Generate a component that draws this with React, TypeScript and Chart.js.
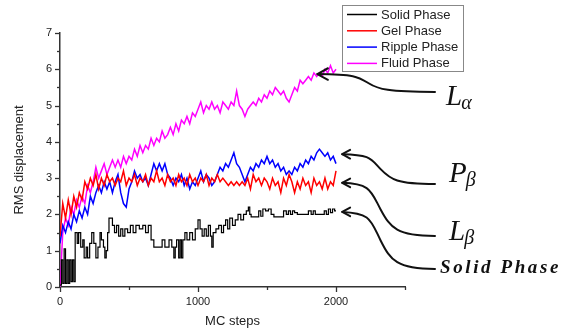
import React, { useEffect, useRef } from 'react';
import { Chart, registerables } from 'chart.js';

Chart.register(...registerables);

// ---------- data ----------
const mcSteps = [
  0, 20, 40, 60, 80, 100, 120, 140, 160, 180, 200, 220, 240, 260, 280, 300, 320, 340, 360, 380,
  400, 420, 440, 460, 480, 500, 520, 540, 560, 580, 600, 620, 640, 660, 680, 700, 720, 740, 760, 780,
  800, 820, 840, 860, 880, 900, 920, 940, 960, 980, 1000, 1020, 1040, 1060, 1080, 1100, 1120, 1140, 1160, 1180,
  1200, 1220, 1240, 1260, 1280, 1300, 1320, 1340, 1360, 1380, 1400, 1420, 1440, 1460, 1480, 1500, 1520, 1540, 1560, 1580,
  1600, 1620, 1640, 1660, 1680, 1700, 1720, 1740, 1760, 1780, 1800, 1820, 1840, 1860, 1880, 1900, 1920, 1940, 1960, 1980,
  2000,
];

const fluidValues = [
  0, 1.5, 1.9, 1.7, 2.2, 2.0, 2.4, 2.2, 2.5, 2.3, 2.8, 2.6, 2.9, 3.3, 3.0, 3.2, 3.4, 3.1, 3.3, 3.5,
  3.3, 3.5, 3.3, 3.6, 3.4, 3.6, 3.5, 3.8, 3.6, 3.9, 3.7, 3.9, 3.8, 4.1, 3.9, 4.1, 4.0, 4.3, 4.1, 4.2,
  4.4, 4.2, 4.5, 4.3, 4.6, 4.5, 4.7, 4.5, 4.8, 4.7, 4.9, 5.1, 4.8, 5.0, 4.9, 5.1, 4.9, 5.0, 4.8, 5.1,
  5.0, 4.9, 5.1, 5.0, 5.4, 5.0, 4.9, 4.7, 4.9, 5.0, 5.1, 5.0, 5.2, 5.1, 5.3, 5.2, 5.4, 5.3, 5.5, 5.4,
  5.3, 5.4, 5.2, 5.1, 5.3, 5.5, 5.4, 5.7, 5.6, 5.7, 5.8, 5.7, 5.9, 5.8, 5.9, 5.8, 6.0, 5.9, 6.1, 5.9,
  6.0,
];

const gelValues = [
  1.4, 2.3, 1.9, 2.4, 2.0, 2.5, 2.2, 2.6, 2.4, 2.9, 2.7, 3.0, 2.8, 3.1, 2.7, 3.0, 2.8, 3.1, 2.9, 3.0,
  2.8, 3.0, 2.9, 3.2, 2.8, 3.0, 2.9, 3.1, 2.8, 3.0, 2.9, 3.1, 2.8, 3.0, 2.9, 3.2, 2.9, 3.0, 2.8, 3.1,
  2.9, 3.0, 2.8, 3.1, 2.9, 3.0, 2.8, 3.1, 2.9, 3.0, 2.8, 3.0, 2.9, 3.1, 2.8, 3.0, 2.9, 3.1, 2.9, 3.0,
  2.9, 2.8, 2.9, 2.8, 2.9, 2.8, 2.9, 2.8, 3.0, 2.7, 3.1, 2.9, 3.0, 2.8, 3.0, 2.9, 2.7, 3.0, 2.8, 2.9,
  2.6, 3.0, 2.8, 3.1, 2.9, 2.6, 2.9, 2.7, 3.0, 2.8, 2.9, 2.6, 3.0, 2.8, 2.9, 2.7, 3.0, 2.7, 2.9, 2.8,
  3.2,
];

const rippleValues = [
  1.2, 1.7, 1.5, 1.8, 1.6, 2.0, 1.8, 2.1, 1.9, 2.2, 2.0, 2.5, 2.3, 2.6, 2.8, 2.6, 2.9, 2.7, 2.9, 2.6,
  2.9, 3.1, 2.6, 2.3, 2.2, 2.7, 2.9, 3.2, 3.0, 3.1, 2.9, 3.0, 2.8, 3.1, 3.4, 3.2, 3.4, 3.2, 3.4, 3.1,
  3.0, 2.8, 3.0, 2.9, 3.1, 2.8, 3.0, 2.7, 2.9, 2.8, 3.0, 3.2, 2.9, 3.1, 3.0, 2.8, 2.9, 3.1, 3.3, 3.2,
  3.4, 3.3, 3.5, 3.7, 3.4, 3.3, 3.1, 2.9, 3.1, 3.3, 3.2, 3.4, 3.3, 3.5, 3.4, 3.6, 3.4, 3.5, 3.3, 3.4,
  3.2, 3.3, 3.1, 3.2, 3.1, 3.3, 3.2, 3.4, 3.3, 3.5, 3.4, 3.6, 3.5, 3.7, 3.8, 3.7, 3.6, 3.7, 3.5, 3.6,
  3.4,
];

// solid phase: early fast-fluctuating part (0-100 MC steps) followed by the slower staircase
const solidSteps = [
  0, 10, 20, 30, 40, 50, 60, 70, 80, 90, 100,
  110, 125, 135, 150, 165, 175, 190, 200, 215, 230, 245, 260, 275, 290, 300,
  315, 325, 335, 345, 355, 380, 395, 410, 425, 440, 455, 470, 490, 510, 530, 550, 575, 600, 620, 640,
  660, 680, 720, 740, 760, 790, 810, 825, 835, 845, 860, 870, 880, 890, 905, 920, 940, 960, 980, 1000,
  1015, 1030, 1045, 1060, 1075, 1090, 1100, 1110, 1130, 1150, 1170, 1185, 1200, 1215, 1230, 1250, 1270, 1290, 1310, 1330,
  1350, 1365, 1375, 1385, 1420, 1440, 1455, 1470, 1490, 1510, 1530, 1550, 1600, 1620, 1640, 1655, 1670, 1685, 1700, 1720,
  1780, 1800, 1820, 1835, 1850, 1900, 1915, 1930, 1945, 1960, 1975, 1990, 2000,
];

const solidValues = [
  0.05, 0.75, 0.1, 1.05, 0.1, 0.75, 0.1, 0.75, 0.15, 0.75, 0.15,
  1.5, 1.2, 1.5, 1.1, 1.3, 0.8, 1.1, 0.8, 1.2, 1.5, 1.2, 0.8, 1.1, 1.5, 1.3,
  1.1, 0.8, 1.0, 1.5, 1.9, 1.7, 1.5, 1.7, 1.4, 1.6, 1.4, 1.6, 1.5, 1.7, 1.5, 1.7, 1.6, 1.7, 1.5, 1.7,
  1.3, 1.1, 1.1, 1.3, 1.1, 1.3, 1.1, 0.8, 1.1, 1.3, 0.8, 1.3, 0.8, 1.3, 1.5, 1.3, 1.5, 1.3, 1.6, 1.85,
  1.6, 1.4, 1.6, 1.4, 1.7, 1.4, 1.1, 1.5, 1.6, 1.7, 1.5, 1.7, 1.85, 1.6, 1.9, 1.7, 1.85, 2.0, 1.85, 2.0,
  2.1, 2.2, 2.0, 1.93, 1.93, 2.1, 1.95, 2.15, 2.1, 2.15, 2.0, 1.93, 1.93, 2.1, 2.0, 2.1, 2.0, 2.1, 2.05, 2.0,
  2.0, 2.1, 2.0, 2.1, 2.0, 2.0, 2.1, 2.0, 2.15, 2.05, 2.15, 2.1, 2.1,
];

const seriesNames = ['Solid Phase', 'Gel Phase', 'Ripple Phase', 'Fluid Phase'];
const seriesColors = ['#000000', '#ff0000', '#0000ff', '#ff00ff'];

const xMajorTicks = [0, 1000, 2000];
const xMinorTicks = [500, 1500, 2500];
const yMajorTicks = [0, 1, 2, 3, 4, 5, 6, 7];
const yMinorTicks = [0.5, 1.5, 2.5, 3.5, 4.5, 5.5, 6.5];

// annotation arrows: target (data coords) -> label
const annoLabelMain = ['L', 'P', 'L', 'Solid Phase'];
const annoLabelSub = ['α', 'β', 'β', ''];
const annoTargetStep = [1865, 2045, 2045, 2045];
const annoTargetValue = [5.87, 3.66, 2.87, 2.07];

const SANS = '"Liberation Sans", Arial, Helvetica, sans-serif';
const SERIF = '"Liberation Serif", "DejaVu Serif", serif';

function drawArrow(ctx: CanvasRenderingContext2D, x0: number, y0: number, x1: number, y1: number, head: number) {
  const dy = y1 - y0;
  const mx = (x0 + x1) / 2 - 8;
  const my = (y0 + y1) / 2;
  ctx.beginPath();
  ctx.moveTo(x0, y0);
  ctx.bezierCurveTo(x0 + (mx - x0) * 0.75, y0 + dy * 0.02, mx - 10, my - dy * 0.35, mx, my);
  ctx.bezierCurveTo(mx + 10, my + dy * 0.35, x1 - (x1 - mx) * 0.7, y1, x1, y1);
  ctx.stroke();
  const ang = 0.5;
  ctx.beginPath();
  ctx.moveTo(x0 + head * Math.cos(ang), y0 - head * Math.sin(ang));
  ctx.lineTo(x0, y0);
  ctx.lineTo(x0 + head * Math.cos(ang), y0 + head * Math.sin(ang));
  ctx.stroke();
}

const decorPlugin = {
  id: 'decor',
  afterDraw(chart: any) {
    const ctx: CanvasRenderingContext2D = chart.ctx;
    const xs = chart.scales.x;
    const ys = chart.scales.y;
    const area = chart.chartArea;
    ctx.save();
    // ticks
    ctx.strokeStyle = '#333';
    ctx.lineWidth = 1.3;
    const tick = (vals: number[], len: number, horiz: boolean) => {
      vals.forEach((v) => {
        ctx.beginPath();
        if (horiz) {
          const px = Math.round(xs.getPixelForValue(v)) + 0.5;
          ctx.moveTo(px, area.bottom);
          ctx.lineTo(px, area.bottom + len);
        } else {
          const py = Math.round(ys.getPixelForValue(v)) + 0.5;
          ctx.moveTo(area.left, py);
          ctx.lineTo(area.left - len, py);
        }
        ctx.stroke();
      });
    };
    tick(xMajorTicks, 5, true);
    tick(xMinorTicks, 3, true);
    tick(yMajorTicks, 5, false);
    tick(yMinorTicks, 3, false);

    // legend
    const lx = 342, ly = 5, lw = 121, lh = 66;
    ctx.fillStyle = '#fff';
    ctx.fillRect(lx, ly, lw, lh);
    ctx.strokeStyle = '#888';
    ctx.lineWidth = 1;
    ctx.strokeRect(lx + 0.5, ly + 0.5, lw, lh);
    ctx.font = `13px ${SANS}`;
    ctx.textBaseline = 'middle';
    ctx.textAlign = 'left';
    seriesNames.forEach((name, i) => {
      const y = 14.5 + i * 16.3;
      ctx.strokeStyle = seriesColors[i];
      ctx.lineWidth = 1.5;
      ctx.beginPath();
      ctx.moveTo(347, y);
      ctx.lineTo(377, y);
      ctx.stroke();
      ctx.fillStyle = '#222';
      ctx.fillText(name, 381, y + 0.5);
    });

    // annotations
    ctx.strokeStyle = '#111';
    ctx.lineWidth = 2;
    ctx.lineCap = 'round';
    ctx.lineJoin = 'round';
    const tails = [[435, 92], [435, 184], [435, 236], [435, 269]];
    annoTargetStep.forEach((s, i) => {
      const hx = xs.getPixelForValue(s);
      const hy = ys.getPixelForValue(annoTargetValue[i]);
      drawArrow(ctx, hx, hy, tails[i][0], tails[i][1], i === 0 ? 12 : 9);
    });
    ctx.fillStyle = '#111';
    ctx.textBaseline = 'alphabetic';
    const mainPos = [[446, 105], [449, 182], [449, 240]];
    for (let i = 0; i < 3; i++) {
      ctx.font = `italic 29px ${SERIF}`;
      ctx.fillText(annoLabelMain[i], mainPos[i][0], mainPos[i][1]);
      const w = ctx.measureText(annoLabelMain[i]).width;
      ctx.font = `italic 20px ${SERIF}`;
      ctx.fillText(annoLabelSub[i], mainPos[i][0] + w - 1, mainPos[i][1] + 4);
    }
    ctx.font = `italic bold 19px ${SERIF}`;
    (ctx as any).letterSpacing = '2.6px';
    ctx.fillText(annoLabelMain[3], 440, 273);
    (ctx as any).letterSpacing = '0px';
    ctx.restore();
  },
};

export default function App() {
  const ref = useRef<HTMLCanvasElement | null>(null);
  useEffect(() => {
    if (!ref.current) return;
    const line = (label: string, color: string, data: any, stepped = false, width = 1.5) => ({
      label,
      data,
      borderColor: color,
      backgroundColor: color,
      borderWidth: width,
      pointRadius: 0,
      tension: 0,
      stepped,
      fill: false,
    });
    const xy = (xsArr: number[], ysArr: number[]) => xsArr.map((x, i) => ({ x, y: ysArr[i] }));
    const chart = new Chart(ref.current, {
      type: 'line',
      data: {
        datasets: [
          line(seriesNames[0], seriesColors[0], xy(solidSteps, solidValues), true, 1.2),
          line(seriesNames[1], seriesColors[1], xy(mcSteps, gelValues)),
          line(seriesNames[2], seriesColors[2], xy(mcSteps, rippleValues)),
          line(seriesNames[3], seriesColors[3], xy(mcSteps, fluidValues)),
        ],
      },
      options: {
        animation: false,
        responsive: false,
        devicePixelRatio: 1,
        layout: { padding: { top: 33, right: 180, bottom: 0, left: 0 } },
        plugins: { legend: { display: false }, tooltip: { enabled: false } },
        scales: {
          x: {
            type: 'linear',
            min: 0,
            max: 2500,
            afterBuildTicks: (s: any) => { s.ticks = xMajorTicks.map((v) => ({ value: v })); },
            afterFit: (s: any) => { s.height = 45; },
            grid: { display: true, drawOnChartArea: false, drawTicks: true, tickLength: 5, tickColor: 'rgba(0,0,0,0)' },
            border: { display: true, color: '#333', width: 1.5 },
            ticks: { color: '#222', font: { family: SANS, size: 11 }, padding: 3, maxRotation: 0, autoSkip: false, callback: (v: any) => String(v) },
            title: { display: true, text: 'MC steps', color: '#222', font: { family: SANS, size: 13 }, padding: { top: 0, bottom: 3 } },
          },
          y: {
            type: 'linear',
            min: 0,
            max: 7,
            afterBuildTicks: (s: any) => { s.ticks = yMajorTicks.map((v) => ({ value: v })); },
            afterFit: (s: any) => { s.width = 60; },
            grid: { display: true, drawOnChartArea: false, drawTicks: true, tickLength: 5, tickColor: 'rgba(0,0,0,0)' },
            border: { display: true, color: '#333', width: 1.5 },
            ticks: { color: '#222', font: { family: SANS, size: 11 }, padding: 3, callback: (v: any) => String(v) },
            title: { display: true, text: 'RMS displacement', color: '#222', font: { family: SANS, size: 13 }, padding: { top: 12, bottom: 0 } },
          },
        },
      },
      plugins: [decorPlugin],
    } as any);
    return () => chart.destroy();
  }, []);
  return (
    <div style={{ position: 'fixed', left: 0, top: 0, width: 585, height: 332, background: '#fff' }}>
      <canvas ref={ref} width={585} height={332} style={{ display: 'block', width: 585, height: 332 }} />
    </div>
  );
}
